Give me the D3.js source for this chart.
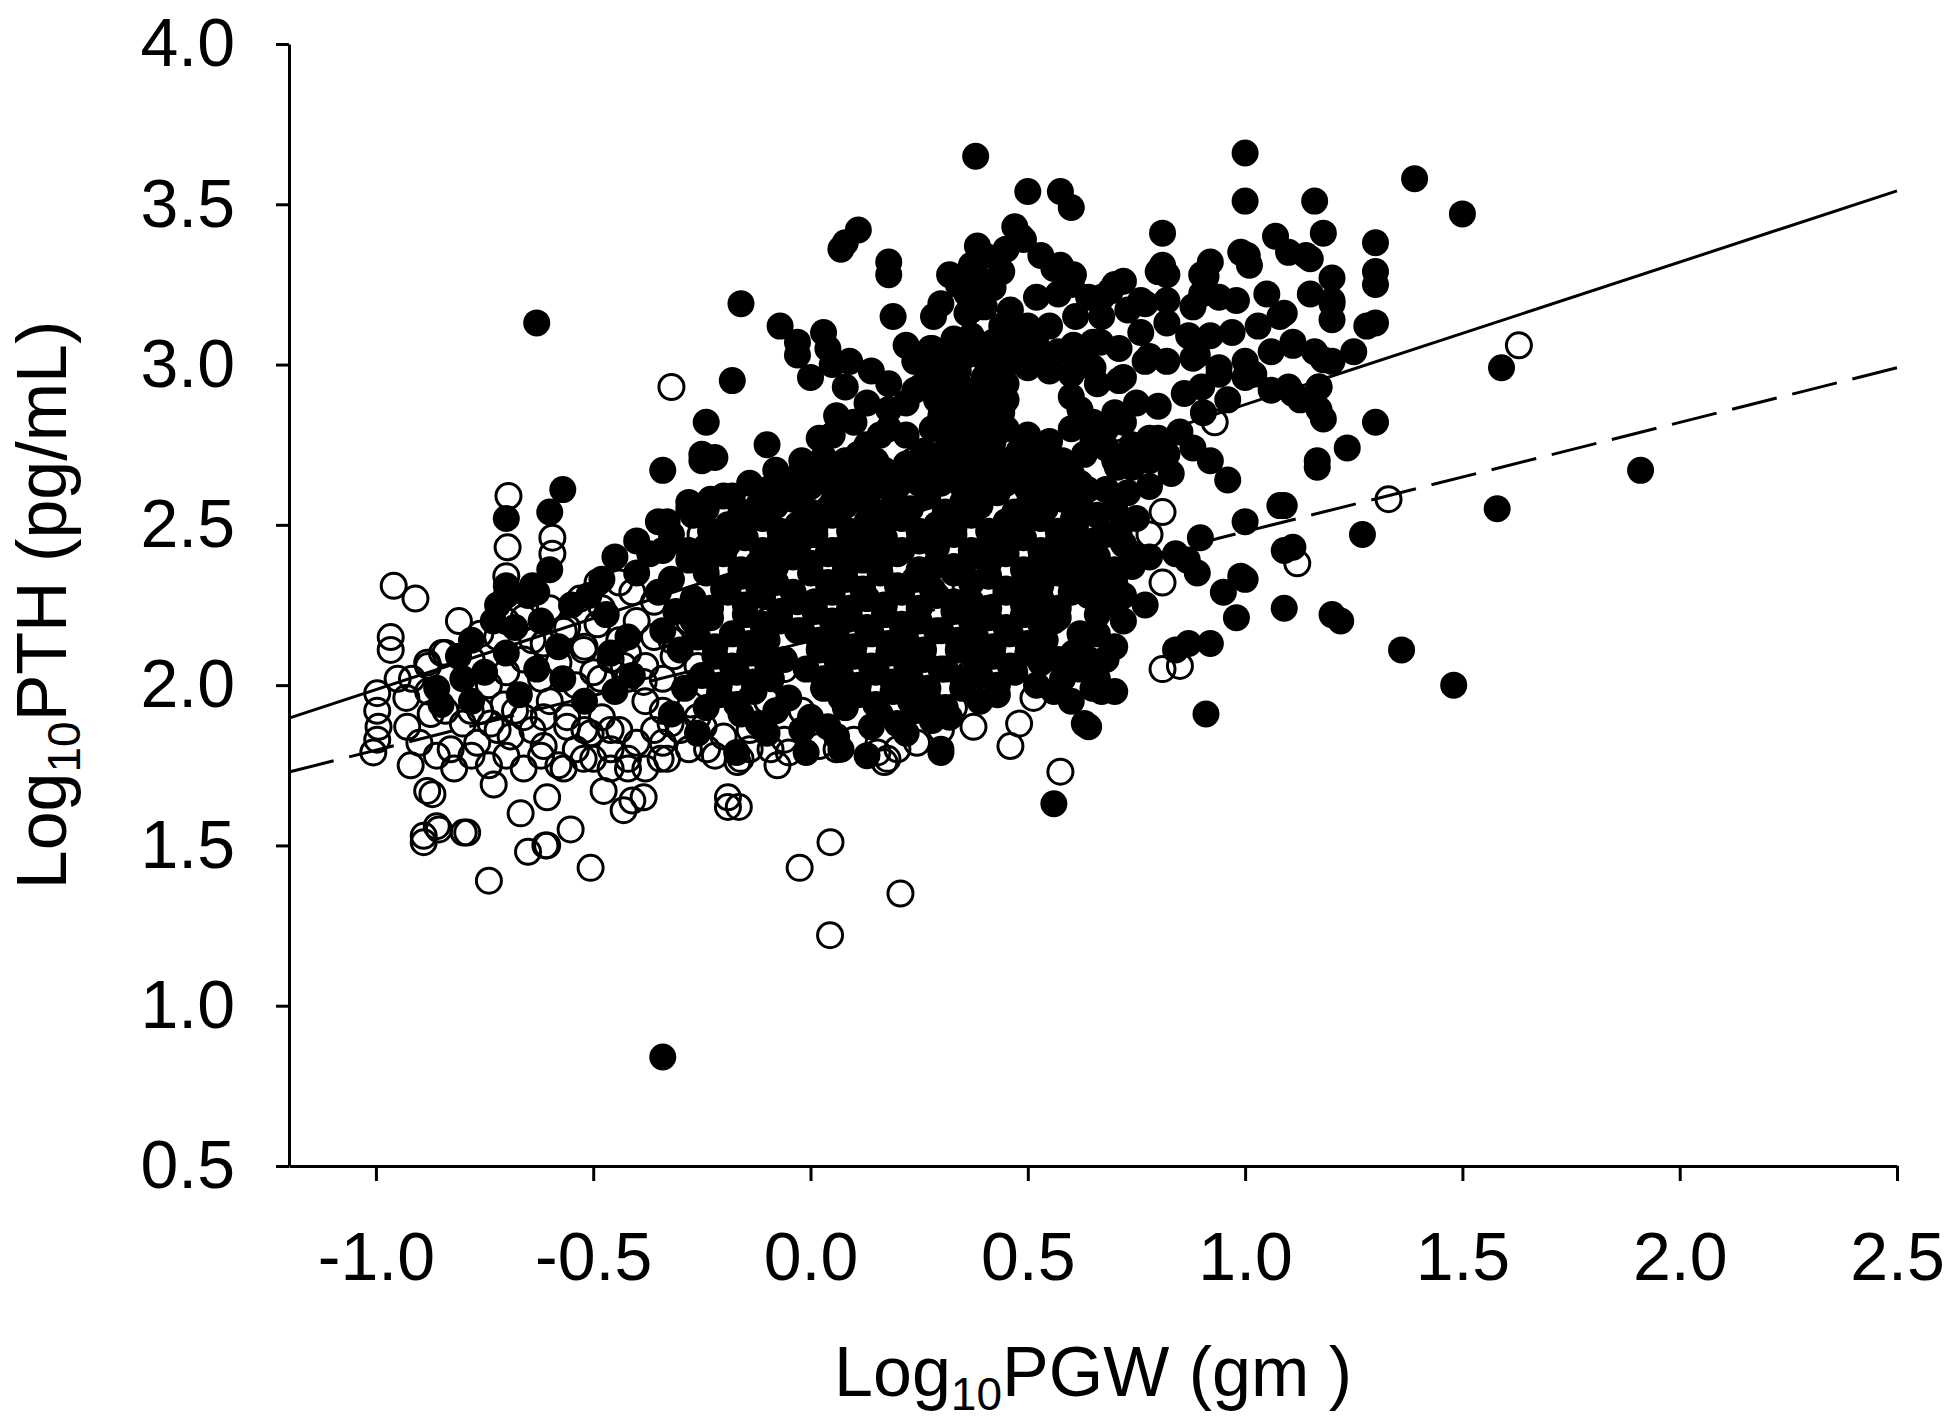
<!DOCTYPE html>
<html><head><meta charset="utf-8">
<script src="https://cdn.jsdelivr.net/npm/d3@7"></script>
<style>
body{margin:0;background:#fff}
svg{display:block}
text{font-family:"Liberation Sans",Arial,Helvetica,sans-serif;fill:#000}
</style>
</head><body>
<svg id="chart" width="1949" height="1427"></svg>
<script>
// ---- axis ticks ----
const xTicks = [-1.0,-0.5,0.0,0.5,1.0,1.5,2.0,2.5];
const yTicks = [0.5,1.0,1.5,2.0,2.5,3.0,3.5,4.0];
const xDomain = [-1.2,2.5];
const yDomain = [0.5,4.0];
const xTitleMain = ["Log","10","PGW (gm )"];
const yTitleMain = ["Log","10","PTH (pg/mL)"];

// ---- regression lines (endpoints) ----
const solidLine = [[-1.2,1.897],[2.5,3.542]];
const dashedLine = [[-1.2,1.729],[2.5,2.99]];

// ---- filled symbols ----
const filledUpper = [
[0.38,3.65],[1.00,3.66],[1.39,3.58],[0.50,3.54],[0.575,3.54],[0.60,3.49],[1.50,3.47],[1.16,3.51],[1.00,3.51],
[0.11,3.42],[0.08,3.38],[0.07,3.36],[0.81,3.41],[1.07,3.40],[1.18,3.41],[1.30,3.38],[0.47,3.43],[0.49,3.39],[0.45,3.36],
[0.18,3.32],[0.18,3.28],[1.14,3.34],[1.10,3.35],[0.99,3.35],[1.01,3.31],[0.92,3.32],[0.90,3.28],[1.20,3.27],[1.30,3.29],
[1.30,3.25],[-0.16,3.19],[-0.63,3.13],[0.19,3.15],[1.30,3.13],[1.28,3.12],[1.20,3.14],[1.09,3.16],[1.15,3.22],[1.20,3.19],
[0.81,3.31],[0.82,3.28],[0.72,3.26],[0.69,3.23],[0.64,3.21],[0.60,3.25],[0.53,3.34],[0.56,3.30],[0.57,3.22],[0.52,3.21],
[0.44,3.29],[0.40,3.34],[0.37,3.31],[0.34,3.25],[0.30,3.19],[0.36,3.16],[0.42,3.24],[0.46,3.17],[0.50,3.12],[0.55,3.12],
[0.61,3.15],[0.67,3.15],[0.73,3.17],[0.77,3.19],[0.82,3.20],[0.88,3.18],[0.94,3.21],[0.98,3.20],[1.05,3.22],[1.03,3.12],
[0.97,3.10],[0.92,3.09],[0.87,3.09],[0.82,3.13],[0.76,3.10],[0.71,3.05],[0.65,3.07],[0.62,3.01],[0.57,3.04],[0.52,3.01],
[0.47,3.04],[0.42,3.07],[0.37,3.09],[0.33,3.08],[0.28,3.05],[0.22,3.06],[0.24,3.01],[0.29,2.98],[0.34,2.98],[0.40,2.96],
[0.45,2.94],[0.60,2.90],[0.66,2.94],[0.72,2.96],[0.77,3.01],[0.82,3.01],[0.89,3.03],[0.94,2.99],[1.00,3.01],
[1.06,3.04],[1.11,3.06],[1.16,3.04],[1.20,3.01],[1.25,3.04],[1.17,2.93],[1.11,2.91],[1.06,2.92],[1.00,2.96],[0.96,2.89],
[0.90,2.93],[0.86,2.91],[0.80,2.87],[0.75,2.88],[0.70,2.85],[0.65,2.82],[0.60,2.80],[0.44,2.85],
[0.39,2.86],[0.34,2.88],[0.29,2.89],[0.24,2.92],[0.18,2.94],[0.14,2.98],[0.09,3.01],[0.04,3.05],[0.03,3.10],[-0.03,3.07],
[0.00,2.96],[-0.03,3.03],[-0.07,3.12],[-0.18,2.95],[-0.24,2.82],[-0.24,2.71],[-0.22,2.71],[-0.34,2.67],[-0.10,2.75],
[0.02,2.77],[0.05,2.78],[0.13,2.75],[0.18,2.80],[0.22,2.78],[0.28,2.80],[0.32,2.77],[0.37,2.75],[0.42,2.76],[0.48,2.73],
[0.53,2.71],[0.58,2.70],[0.63,2.72],[0.68,2.74],[0.74,2.75],[0.80,2.77],[0.85,2.79],[1.17,2.86],[1.30,2.82],
[0.96,2.64],[0.83,2.66],[0.78,2.62],[0.73,2.60],[0.68,2.61],[0.62,2.63],[0.57,2.63],[0.52,2.64],[0.47,2.67],[0.42,2.67],
[0.37,2.67],[0.32,2.68],[0.27,2.67],[0.22,2.69],[0.17,2.67],[0.12,2.65],[0.07,2.66],[0.02,2.67],[-0.03,2.65],[-0.08,2.67],
[-0.14,2.63],[-0.18,2.59],[-0.23,2.58],[-0.28,2.55],[-0.33,2.51],[-0.34,2.42],[0.08,2.93],[0.05,3.00]
];
const filledDense = [
[0.32,3.28],[0.36,3.22],[0.40,3.18],[0.44,3.12],[0.48,3.08],[0.52,3.06],[0.40,3.02],[0.36,3.03],[0.31,3.02],[0.27,2.96],
[0.31,2.93],[0.36,2.92],[0.40,2.90],[0.45,2.89],[0.30,2.84],[0.35,2.82],[0.40,2.80],[0.45,2.80],[0.50,2.78],[0.55,2.76],
[0.26,2.73],[0.30,2.72],[0.35,2.71],[0.40,2.72],[0.45,2.70],[0.50,2.68],[0.55,2.67],[0.60,2.66],[0.25,2.63],[0.30,2.63],
[0.35,2.62],[0.40,2.62],[0.45,2.63],[0.50,2.61],[0.55,2.60],[0.20,2.62],[0.15,2.62],[0.10,2.61],[0.05,2.62],[0.00,2.62],
[-0.05,2.62],[-0.10,2.61],[0.45,3.00],[0.50,2.99],[0.55,2.98],[0.60,2.97],[0.65,2.99],[0.62,2.86],[0.68,2.80],[0.72,2.82],
[0.65,2.76],[0.70,2.70],[0.74,2.68],[0.78,2.70],[0.82,2.72],[0.88,2.74],[0.92,2.70],[0.62,2.56],[0.66,2.53],[0.70,2.55],
[0.75,2.52],[0.72,2.44],[0.78,2.40],[0.66,2.40],[0.70,2.36],[0.64,2.28],[0.68,2.25],[0.72,2.20],[0.66,2.16],[0.70,2.12],
[0.62,2.05],[0.66,2.02],[0.60,1.95],[0.56,1.98],[0.52,2.00],[0.11,2.72],[0.15,2.70],[0.08,2.70],[0.03,2.71],[-0.02,2.70],
[0.18,2.86],[0.22,2.88],[0.13,2.88],[0.10,2.82],[0.16,2.78],[0.06,2.84]
];
const filledRight = [
[1.27,2.47],[1.08,2.56],[1.00,2.51],[1.09,2.42],[0.99,2.34],[1.20,2.22],[1.22,2.20],[1.36,2.11],[1.48,2.00],[1.58,2.55],
[1.59,2.99],[1.91,2.67],[1.09,2.24],[0.98,2.21],[0.91,1.91],[0.92,2.13],[0.87,2.13],[0.84,2.11],[0.77,2.25],[0.72,2.28],
[0.70,2.32],[0.65,2.34],[0.63,1.88],[0.65,1.99],[0.68,2.08],[0.62,2.12],[0.56,1.63],[0.30,1.80],
[1.15,3.33],[1.20,3.20],[1.005,3.34],[0.91,3.275],[0.90,3.22],[0.80,3.29],[0.76,3.20],[0.70,3.25],[0.67,3.21],[0.605,3.28],
[0.575,3.31],[0.483,3.40],[0.384,3.37],[0.398,3.26],[0.37,3.17],[0.283,3.15],[0.276,3.05],[0.253,2.93],[0.306,2.89],
[1.08,3.15],[1.11,3.07],[1.18,3.015],[1.17,2.93],[1.18,2.83],[1.166,2.68],[1.235,2.74],[0.88,3.02],[0.94,2.97],[1.02,2.97],
[1.10,2.93],[1.127,2.89],[0.78,3.025],[0.71,2.95],[0.667,3.07],[0.605,3.06],[0.904,2.85],[1.09,2.56],[1.11,2.43],
[0.897,2.46],[0.867,2.39],[1.00,2.33],[0.95,2.29],[1.166,2.70],[0.78,2.77],[0.706,2.68],[0.637,2.61],[0.605,2.52],[0.568,2.42],
[0.65,2.45],[0.71,2.48],[0.74,2.37],[0.68,2.35],[0.89,2.35],[0.84,2.41],[0.74,2.41],[0.68,2.47],[0.61,2.46],[0.60,2.32],
[0.57,2.21],[0.64,1.87],[0.67,1.98],[0.70,1.98],[0.68,2.30],[0.71,2.27],[0.605,2.10],[0.64,2.08],[0.58,2.02],[0.62,2.16],
[0.66,2.22],[0.62,2.33],[0.30,1.79]
];
const filledLeft = [
[-0.34,0.84],[-0.57,2.61],[-0.60,2.54],[-0.70,2.52],[-0.63,2.29],[-0.70,2.28],[-0.73,2.20],[-0.78,2.14],[-0.81,2.09],[-0.75,2.04],
[-0.86,1.99],[-0.80,2.02],[-0.70,2.10],[-0.72,2.25],[-0.65,2.28],[-0.68,2.18],[-0.62,2.20],[-0.58,2.12],[-0.55,2.25],
[-0.63,2.05],[-0.57,2.02],[-0.52,1.95],[-0.70,2.31],[-0.64,2.31],[-0.60,2.36],[-0.67,1.97],[-0.78,1.95],[-0.85,1.94],
[-0.25,2.70],[-0.25,2.72]
];
const filledCore = [
[-0.28,2.57],[-0.20,2.59],[-0.12,2.56],[-0.04,2.58],[0.04,2.55],[0.11,2.58],[0.19,2.56],[0.27,2.59],[0.35,2.57],[0.43,2.60],[0.50,2.56],[0.58,2.58],
[-0.35,2.51],[-0.27,2.53],[-0.19,2.50],[-0.11,2.52],[-0.03,2.50],[0.05,2.53],[0.13,2.51],[0.21,2.52],[0.29,2.50],[0.37,2.53],[0.45,2.51],[0.53,2.52],[0.61,2.50],
[-0.40,2.45],[-0.32,2.47],[-0.23,2.44],[-0.15,2.46],[-0.07,2.45],[0.01,2.47],[0.09,2.44],[0.17,2.46],[0.25,2.45],[0.33,2.47],[0.41,2.44],[0.49,2.46],[0.57,2.45],
[-0.45,2.40],[-0.37,2.41],[-0.28,2.39],[-0.20,2.41],[-0.12,2.38],[-0.04,2.40],[0.04,2.41],[0.12,2.39],[0.20,2.41],[0.29,2.38],[0.37,2.40],[0.45,2.41],[0.53,2.39],[0.62,2.40],
[-0.48,2.33],[-0.40,2.35],[-0.32,2.33],[-0.24,2.35],[-0.16,2.34],[-0.08,2.32],[0.00,2.35],[0.08,2.33],[0.16,2.35],[0.24,2.33],[0.33,2.35],[0.41,2.34],[0.49,2.32],[0.57,2.35],
[-0.51,2.28],[-0.35,2.29],[-0.27,2.27],[-0.19,2.29],[-0.11,2.28],[-0.03,2.26],[0.05,2.29],[0.13,2.27],[0.21,2.29],[0.29,2.28],[0.37,2.26],[0.45,2.29],[0.53,2.27],[0.60,2.29],
[-0.47,2.22],[-0.31,2.23],[-0.23,2.21],[-0.15,2.22],[-0.07,2.20],[0.01,2.23],[0.09,2.21],[0.17,2.22],[0.25,2.20],[0.33,2.23],[0.41,2.21],[0.49,2.22],[0.56,2.20],
[-0.42,2.15],[-0.34,2.17],[-0.26,2.15],[-0.18,2.16],[-0.10,2.14],[-0.02,2.17],[0.06,2.15],[0.14,2.16],[0.22,2.14],[0.30,2.17],[0.38,2.15],[0.46,2.16],[0.54,2.14],
[-0.46,2.10],[-0.30,2.11],[-0.22,2.09],[-0.14,2.10],[-0.06,2.08],[0.02,2.11],[0.10,2.09],[0.18,2.10],[0.26,2.08],[0.34,2.11],[0.42,2.09],[0.50,2.10],[0.57,2.08],
[-0.41,2.03],[-0.25,2.03],[-0.17,2.04],[-0.09,2.02],[-0.01,2.05],[0.07,2.03],[0.15,2.04],[0.23,2.02],[0.31,2.05],[0.39,2.03],[0.47,2.04],
[-0.45,1.98],[-0.29,1.99],[-0.21,1.97],[-0.13,1.98],[-0.05,1.96],[0.03,1.99],[0.11,1.97],[0.19,1.98],[0.27,1.96],[0.35,1.99],[0.43,1.97],
[-0.32,1.91],[-0.24,1.93],[-0.16,1.91],[-0.08,1.92],[0.00,1.90],[0.08,1.93],[0.16,1.91],[0.24,1.92],[0.32,1.90],
[-0.26,1.85],[-0.10,1.85],[-0.02,1.86],[0.06,1.84],[0.14,1.87],[0.22,1.85],
[-0.17,1.79],[-0.01,1.79],[0.07,1.80],[0.13,1.78]
];
const filledCore2 = [
[-0.24,2.55],[-0.16,2.54],[-0.08,2.56],[0.00,2.54],[0.08,2.56],[0.15,2.54],[0.23,2.55],[0.31,2.54],[0.39,2.56],[0.47,2.54],[0.54,2.55],
[-0.23,2.48],[-0.15,2.50],[-0.07,2.48],[0.01,2.49],[0.09,2.48],[0.17,2.50],[0.25,2.48],[0.33,2.49],[0.41,2.48],[0.49,2.50],[0.57,2.48],
[-0.28,2.42],[-0.19,2.44],[-0.11,2.42],[-0.03,2.43],[0.05,2.42],[0.13,2.44],[0.21,2.42],[0.29,2.43],[0.37,2.42],[0.45,2.44],[0.53,2.42],[0.60,2.43],
[-0.24,2.38],[-0.16,2.36],[-0.08,2.37],[0.00,2.38],[0.08,2.36],[0.16,2.38],[0.25,2.36],[0.33,2.37],[0.41,2.38],[0.49,2.36],[0.58,2.37],
[-0.20,2.30],[-0.12,2.31],[-0.04,2.29],[0.04,2.32],[0.12,2.30],[0.20,2.31],[0.28,2.30],[0.37,2.32],[0.45,2.30],[0.53,2.31],
[-0.23,2.24],[-0.15,2.25],[-0.07,2.23],[0.01,2.26],[0.09,2.24],[0.17,2.25],[0.25,2.24],[0.33,2.26],[0.41,2.24],[0.49,2.25],[0.57,2.24],
[-0.27,2.20],[-0.11,2.19],[-0.03,2.17],[0.05,2.20],[0.13,2.18],[0.21,2.19],[0.29,2.17],[0.37,2.20],[0.45,2.18],[0.53,2.19],
[-0.22,2.12],[-0.14,2.13],[0.02,2.14],[0.10,2.12],[0.18,2.13],[0.26,2.11],[0.34,2.14],[0.42,2.12],[0.50,2.13],
[-0.18,2.06],[-0.10,2.07],[0.06,2.08],[0.14,2.06],[0.22,2.07],[0.30,2.05],[0.38,2.08],[0.46,2.06],[0.53,2.07],
[-0.21,2.00],[-0.13,2.01],[0.03,2.02],[0.11,2.00],[0.19,2.01],[0.27,1.99],[0.35,2.02],[0.43,2.00],
[-0.17,1.94],[0.07,1.96],[0.15,1.94],[0.23,1.95],[0.31,1.93],[0.39,1.95],
[-0.12,1.88],[0.04,1.87],[0.20,1.88],[0.28,1.89]
];

// ---- open symbols ----
const openLeft = [
[-0.959,2.31],[-0.909,2.27],[-0.809,2.20],[-0.966,2.15],[-0.966,2.11],[-0.848,2.10],[-0.917,2.02],[-0.997,1.975],[-0.997,1.92],
[-0.994,1.87],[-0.997,1.83],[-1.006,1.79],[-0.874,1.91],[-0.928,1.87],[-0.92,1.75],[-0.882,1.67],[-0.89,1.53],[-0.855,1.55],
[-0.798,1.54],[-0.74,1.39],[-0.606,1.50],[-0.552,1.55],[-0.506,1.43],[-0.667,1.60],[-0.65,1.48],[-0.606,1.65],[-0.729,1.69],
[-0.43,1.61],[-0.41,1.64],[-0.384,1.65],[-0.33,1.77],[-0.476,1.67],[-0.522,1.77],[-0.46,1.80],[-0.42,1.74],[-0.568,1.74],
[-0.614,1.81],[-0.69,1.84],[-0.767,1.82],[-0.828,1.80],[-0.782,1.92],[-0.736,1.88],[-0.706,1.94],[-0.66,1.90],[-0.614,1.90],
[-0.56,1.87],[-0.506,1.85],[-0.46,1.86],[-0.882,2.07],[-0.721,2.15],[-0.66,2.21],[-0.614,2.13],[-0.568,2.17],[-0.522,2.11],
[-0.49,2.19],[-0.483,2.02],[-0.43,2.06],[-0.384,2.01],[-0.36,2.15],[-0.315,2.09],[-0.276,1.94],[-0.322,1.88],[-0.253,2.47],
[-0.246,1.87],[-0.238,1.80],[-0.695,2.59],[-0.697,2.43],[-0.594,2.46],[-0.594,2.41],[-0.70,2.34],[-0.53,2.27],[-0.49,2.32],
[-0.44,2.32],[-0.41,2.29],[-0.32,2.93],[-0.24,2.43],[-0.86,1.56],[-0.89,1.51],[-0.79,1.54],[-0.87,1.66],[-0.61,1.50]
];
const openFill = [
[-0.95,2.02],[-0.93,1.96],[-0.88,1.98],[-0.84,1.92],[-0.80,1.88],[-0.76,1.92],[-0.72,1.86],[-0.68,1.92],[-0.64,1.86],[-0.60,1.95],
[-0.56,1.90],[-0.52,1.86],[-0.48,1.90],[-0.44,1.86],[-0.40,1.82],[-0.36,1.86],[-0.90,1.82],[-0.86,1.78],[-0.82,1.74],[-0.78,1.78],
[-0.74,1.75],[-0.70,1.78],[-0.66,1.74],[-0.62,1.78],[-0.58,1.75],[-0.54,1.80],[-0.50,1.77],[-0.46,1.74],[-0.42,1.77],[-0.38,1.74],
[-0.34,1.82],[-0.88,2.06],[-0.84,2.10],[-0.78,2.08],[-0.74,2.00],[-0.70,2.04],[-0.66,2.08],[-0.62,2.02],[-0.58,2.07],[-0.54,2.00],
[-0.50,2.04],[-0.46,2.08],[-0.42,2.02],[-0.38,2.06],[-0.76,2.16],[-0.70,2.20],[-0.64,2.14],[-0.60,2.24],[-0.56,2.18],[-0.52,2.12],
[-0.48,2.24],[-0.44,2.14],[-0.40,2.20],[-0.36,2.26],[-0.32,2.14],[-0.28,2.20],[-0.38,1.95],[-0.34,1.92],[-0.30,1.86],[-0.26,1.90],
[-0.20,1.84],[-0.14,1.86],[-0.06,1.83],[-0.10,1.95],[-0.02,1.92],[-0.18,2.01],[-0.06,2.05],[-0.26,2.06],[-0.34,2.02],[-0.42,2.10]
];
const openRight = [
[-0.19,1.62],[-0.165,1.62],[-0.025,1.43],[0.046,1.51],[0.045,1.22],[0.207,1.35],[0.17,1.76],[0.245,1.82],[0.375,1.87],[0.46,1.81],
[0.513,1.96],[0.575,1.73],[0.644,2.14],[0.70,2.80],[0.78,2.47],[0.81,2.54],[0.81,2.32],[0.81,2.05],[0.85,2.06],[0.93,2.82],
[1.12,2.38],[1.33,2.58],[1.63,3.06],[-0.345,1.77],[-0.168,1.76],[-0.076,1.75],[0.375,2.02],[0.42,1.99],[0.361,2.03],[0.398,1.98],
[0.437,2.05],[0.154,1.79],[0.177,1.77],[-0.092,1.80],[-0.161,1.77],[-0.28,1.80],[-0.22,1.78],[-0.14,1.80],[-0.05,1.79],
[0.02,1.81],[0.06,1.80],[0.10,1.83],[0.20,1.80],[0.30,1.86],[0.33,1.93],[0.48,1.88],[0.053,2.57],[0.237,2.70],[0.513,2.73],
[0.0,2.30],[-0.1,2.20],[0.15,2.05],[0.3,2.30],[0.55,2.40],[-0.19,1.65]
];

// ---- scales ----
const svg = d3.select("#chart");
const x = d3.scaleLinear().domain(xDomain).range([289,1897]);
const y = d3.scaleLinear().domain(yDomain).range([1166,44]);
const fmt = d => d.toFixed(1);

// open symbols (behind)
const openAll = openLeft.concat(openFill, openRight);
svg.append("g").selectAll("circle").data(openAll).join("circle")
  .attr("cx", d => x(d[0])).attr("cy", d => y(d[1])).attr("r", 12.5)
  .attr("fill", "none").attr("stroke", "#000").attr("stroke-width", 3);

// filled symbols
const filledAll = filledUpper.concat(filledDense, filledRight, filledLeft, filledCore, filledCore2);
svg.append("g").selectAll("circle").data(filledAll).join("circle")
  .attr("cx", d => x(d[0])).attr("cy", d => y(d[1])).attr("r", 13.5)
  .attr("fill", "#000");

// regression lines
const line = d3.line().x(d => x(d[0])).y(d => y(d[1]));
svg.append("path").attr("d", line(solidLine)).attr("fill","none").attr("stroke","#000").attr("stroke-width",3);
svg.append("path").attr("d", line(dashedLine)).attr("fill","none").attr("stroke","#000").attr("stroke-width",3)
  .attr("stroke-dasharray","46,16");

// axes
const gx = svg.append("g").attr("transform","translate(0,1166)")
  .call(d3.axisBottom(x).tickValues(xTicks).tickFormat(fmt).tickSize(15).tickSizeOuter(0).tickPadding(51));
const gy = svg.append("g").attr("transform","translate(289,0)")
  .call(d3.axisLeft(y).tickValues(yTicks).tickFormat(fmt).tickSize(13).tickSizeOuter(0).tickPadding(41));
[gx,gy].forEach(g => {
  g.selectAll("path,line").attr("stroke","#000").attr("stroke-width",3);
  g.selectAll("text").attr("font-size",68).attr("font-family","'Liberation Sans',Arial,sans-serif").attr("fill","#000");
});

// axis titles
function title(parts, tx, ty, rot) {
  const t = svg.append("text").attr("transform", `translate(${tx},${ty}) rotate(${rot})`)
    .attr("text-anchor","middle").attr("font-size",70);
  t.append("tspan").text(parts[0]);
  t.append("tspan").attr("font-size",46).attr("dy",14).text(parts[1]);
  t.append("tspan").attr("dy",-14).text(parts[2]);
}
title(xTitleMain, 1093, 1396, 0);
title(yTitleMain, 66, 605, -90);
</script>
</body></html>
